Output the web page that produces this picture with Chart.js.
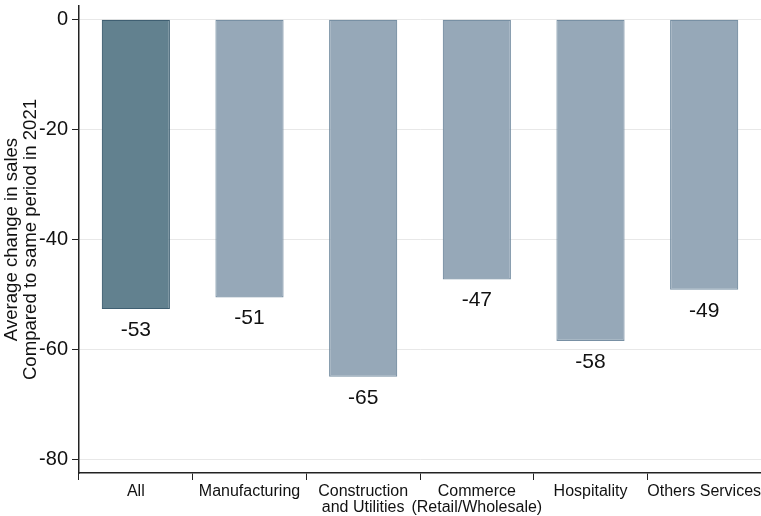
<!DOCTYPE html>
<html>
<head>
<meta charset="utf-8">
<script src="https://cdn.jsdelivr.net/npm/chart.js@4"></script>
<style>
  html, body { margin: 0; padding: 0; background: #fff; }
  #wrap { width: 761px; height: 516px; }
</style>
</head>
<body>
<div id="wrap"><canvas id="myChart" width="761" height="516"></canvas></div>
<script>
const sectors = ['All', 'Manufacturing', ['Construction', 'and Utilities'], ['Commerce', '(Retail/Wholesale)'], 'Hospitality', 'Others Services'];
const salesChange = [-52.7, -50.6, -65.0, -47.3, -58.5, -49.2];
const yTicks = [0, -20, -40, -60, -80];
const yTitle = ['Average change in sales', 'Compared to same period in 2021'];

const fillColors = ['#62818f', '#96a8b8', '#96a8b8', '#96a8b8', '#96a8b8', '#96a8b8'];
const edgeColors = ['#3f5f72', '#7890a4', '#7890a4', '#7890a4', '#7890a4', '#7890a4'];

// value labels under each bar
const valueLabels = {
  id: 'valueLabels',
  afterDatasetsDraw(chart) {
    const ctx = chart.ctx;
    const meta = chart.getDatasetMeta(0);
    ctx.save();
    ctx.font = '21px Arial, "Liberation Sans", sans-serif';
    ctx.fillStyle = '#111';
    ctx.textAlign = 'center';
    ctx.textBaseline = 'middle';
    meta.data.forEach((bar, i) => {
      ctx.fillText(Math.round(salesChange[i]), bar.x, bar.y + 21);
    });
    ctx.restore();
  }
};

new Chart(document.getElementById('myChart'), {
  type: 'bar',
  data: {
    labels: sectors,
    datasets: [{
      data: salesChange,
      backgroundColor: fillColors,
      borderColor: edgeColors,
      borderWidth: 1.2,
      borderSkipped: false,
      barPercentage: 0.6,
      categoryPercentage: 1
    }]
  },
  options: {
    responsive: false,
    animation: false,
    layout: { padding: { top: 6, right: 0, left: 0, bottom: 0 } },
    plugins: {
      legend: { display: false },
      tooltip: { enabled: false }
    },
    scales: {
      x: {
        grid: {
          display: true,
          drawOnChartArea: false,
          tickColor: '#222',
          tickLength: 7,
          tickWidth: 1
        },
        border: { color: '#222', width: 1.5 },
        ticks: {
          color: '#111',
          font: { family: 'Arial, "Liberation Sans", sans-serif', size: 16, lineHeight: 1.0 },
          padding: 4,
          maxRotation: 0,
          autoSkip: false
        },
        afterFit(scale) {
          scale.height = 43;
          scale.paddingLeft = 0;
          scale.paddingRight = 0;
        }
      },
      y: {
        min: -82.5,
        max: 2.4,
        afterBuildTicks(scale) { scale.ticks = yTicks.map(v => ({ value: v })); },
        afterFit(scale) {
          scale.width = 79;
          scale.paddingTop = 0;
          scale.paddingBottom = 0;
        },
        grid: {
          color: '#e8e8e8',
          lineWidth: 1,
          tickColor: '#222',
          tickLength: 7
        },
        border: { color: '#222', width: 1.5 },
        ticks: {
          color: '#111',
          font: { family: 'Arial, "Liberation Sans", sans-serif', size: 20 },
          padding: 4
        },
        title: {
          display: true,
          text: yTitle,
          color: '#111',
          font: { family: 'Arial, "Liberation Sans", sans-serif', size: 18.6, lineHeight: 1.0 },
          padding: { top: 3, bottom: 0 }
        }
      }
    }
  },
  plugins: [valueLabels]
});
</script>
</body>
</html>
